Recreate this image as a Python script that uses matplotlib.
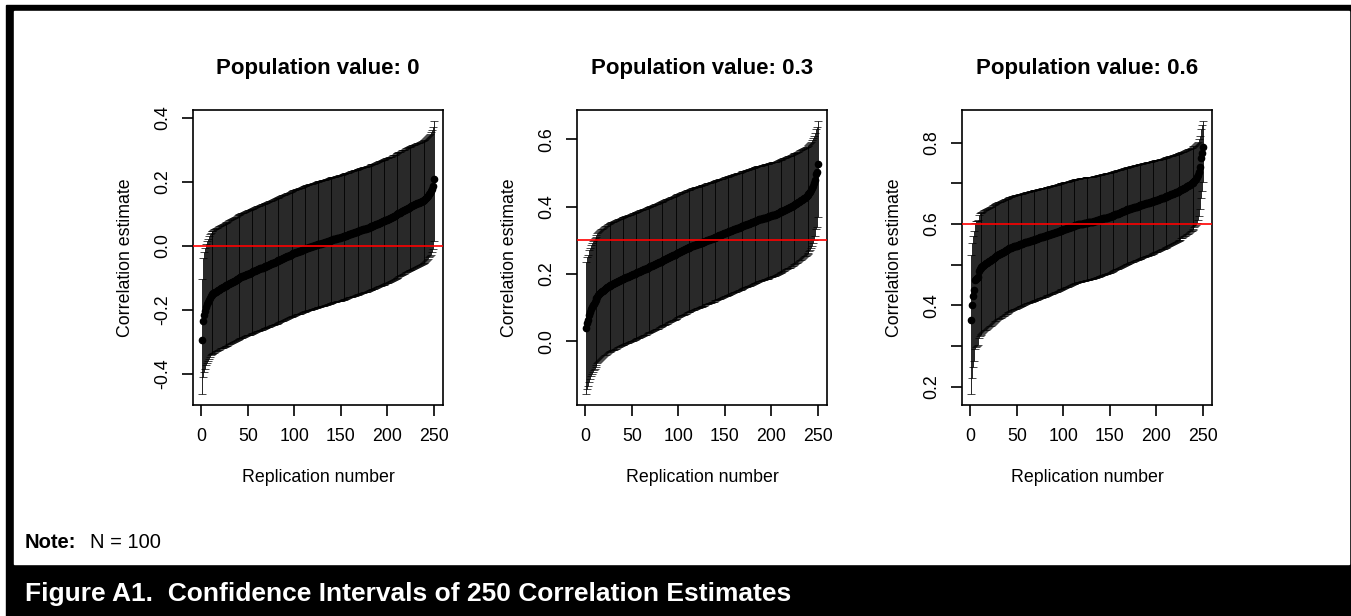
import numpy as np
import matplotlib
matplotlib.use("Agg")
import matplotlib.pyplot as plt
from matplotlib.patches import Rectangle

plt.rcParams['font.family'] = ['Liberation Sans', 'DejaVu Sans']

# sample size behind every correlation
N = 100

populations = [0.0, 0.3, 0.6]
titles = ["Population value: 0", "Population value: 0.3", "Population value: 0.6"]

# sorted correlation estimates, 250 replications per panel
est_00 = [
    -0.294, -0.234, -0.216, -0.203, -0.192, -0.183, -0.175, -0.168, -0.162, -0.157,
    -0.153, -0.151, -0.149, -0.147, -0.145, -0.143, -0.141, -0.139, -0.137, -0.135,
    -0.133, -0.132, -0.130, -0.129, -0.127, -0.126, -0.124, -0.123, -0.121, -0.119,
    -0.117, -0.115, -0.114, -0.112, -0.111, -0.109, -0.107, -0.105, -0.103, -0.101,
    -0.100, -0.099, -0.097, -0.096, -0.095, -0.093, -0.092, -0.091, -0.089, -0.088,
    -0.087, -0.086, -0.084, -0.083, -0.082, -0.080, -0.079, -0.078, -0.076, -0.075,
    -0.074, -0.073, -0.071, -0.070, -0.069, -0.068, -0.066, -0.065, -0.064, -0.063,
    -0.062, -0.060, -0.059, -0.058, -0.057, -0.055, -0.054, -0.053, -0.052, -0.050,
    -0.049, -0.048, -0.046, -0.045, -0.043, -0.042, -0.040, -0.039, -0.038, -0.036,
    -0.035, -0.033, -0.032, -0.031, -0.029, -0.028, -0.027, -0.025, -0.024, -0.023,
    -0.022, -0.021, -0.019, -0.018, -0.017, -0.016, -0.015, -0.013, -0.012, -0.011,
    -0.010, -0.009, -0.008, -0.007, -0.006, -0.005, -0.004, -0.003, -0.002, -0.001,
    0.000, 0.001, 0.002, 0.003, 0.004, 0.005, 0.006, 0.006, 0.007, 0.008,
    0.009, 0.010, 0.011, 0.012, 0.013, 0.014, 0.015, 0.016, 0.017, 0.018,
    0.019, 0.020, 0.020, 0.021, 0.022, 0.023, 0.024, 0.025, 0.025, 0.026,
    0.027, 0.028, 0.029, 0.030, 0.031, 0.032, 0.033, 0.034, 0.036, 0.037,
    0.038, 0.039, 0.040, 0.041, 0.042, 0.043, 0.044, 0.045, 0.046, 0.047,
    0.048, 0.049, 0.050, 0.051, 0.052, 0.053, 0.054, 0.055, 0.056, 0.057,
    0.059, 0.060, 0.061, 0.062, 0.063, 0.064, 0.066, 0.067, 0.068, 0.069,
    0.071, 0.072, 0.073, 0.075, 0.076, 0.077, 0.078, 0.080, 0.081, 0.082,
    0.083, 0.085, 0.086, 0.087, 0.089, 0.091, 0.092, 0.094, 0.096, 0.098,
    0.099, 0.101, 0.103, 0.104, 0.106, 0.108, 0.110, 0.111, 0.113, 0.115,
    0.116, 0.118, 0.119, 0.121, 0.122, 0.124, 0.125, 0.127, 0.128, 0.130,
    0.131, 0.133, 0.134, 0.135, 0.137, 0.138, 0.140, 0.141, 0.143, 0.144,
    0.147, 0.150, 0.153, 0.157, 0.161, 0.165, 0.170, 0.177, 0.188, 0.210,
]

est_03 = [
    0.040, 0.055, 0.063, 0.078, 0.086, 0.094, 0.100, 0.106, 0.111, 0.116,
    0.121, 0.127, 0.132, 0.136, 0.139, 0.142, 0.145, 0.148, 0.150, 0.152,
    0.155, 0.157, 0.160, 0.162, 0.164, 0.165, 0.167, 0.168, 0.170, 0.171,
    0.172, 0.174, 0.175, 0.177, 0.178, 0.179, 0.181, 0.182, 0.184, 0.185,
    0.186, 0.187, 0.188, 0.190, 0.191, 0.192, 0.193, 0.194, 0.196, 0.197,
    0.198, 0.199, 0.200, 0.202, 0.203, 0.204, 0.205, 0.206, 0.208, 0.209,
    0.210, 0.212, 0.213, 0.214, 0.215, 0.217, 0.218, 0.219, 0.221, 0.222,
    0.223, 0.224, 0.226, 0.227, 0.228, 0.230, 0.231, 0.232, 0.234, 0.235,
    0.236, 0.238, 0.239, 0.241, 0.242, 0.243, 0.245, 0.246, 0.248, 0.249,
    0.250, 0.252, 0.253, 0.255, 0.256, 0.257, 0.259, 0.260, 0.262, 0.263,
    0.264, 0.266, 0.267, 0.269, 0.270, 0.271, 0.273, 0.274, 0.276, 0.277,
    0.278, 0.279, 0.281, 0.282, 0.283, 0.284, 0.285, 0.286, 0.287, 0.288,
    0.289, 0.290, 0.291, 0.292, 0.293, 0.294, 0.295, 0.296, 0.297, 0.299,
    0.300, 0.301, 0.302, 0.303, 0.304, 0.305, 0.306, 0.307, 0.308, 0.310,
    0.311, 0.312, 0.313, 0.314, 0.315, 0.316, 0.317, 0.318, 0.320, 0.321,
    0.322, 0.323, 0.324, 0.325, 0.326, 0.327, 0.328, 0.329, 0.330, 0.332,
    0.333, 0.334, 0.335, 0.336, 0.337, 0.338, 0.339, 0.341, 0.342, 0.343,
    0.344, 0.345, 0.346, 0.347, 0.348, 0.349, 0.350, 0.352, 0.353, 0.354,
    0.355, 0.356, 0.357, 0.358, 0.360, 0.361, 0.362, 0.362, 0.363, 0.364,
    0.365, 0.366, 0.367, 0.367, 0.368, 0.369, 0.370, 0.371, 0.372, 0.373,
    0.374, 0.375, 0.375, 0.376, 0.377, 0.379, 0.380, 0.381, 0.383, 0.384,
    0.386, 0.387, 0.388, 0.390, 0.391, 0.393, 0.394, 0.396, 0.397, 0.398,
    0.400, 0.401, 0.403, 0.404, 0.406, 0.408, 0.409, 0.411, 0.413, 0.415,
    0.417, 0.419, 0.421, 0.423, 0.425, 0.427, 0.429, 0.431, 0.433, 0.436,
    0.440, 0.444, 0.449, 0.455, 0.462, 0.470, 0.480, 0.497, 0.503, 0.526,
]

est_06 = [
    0.365, 0.400, 0.423, 0.437, 0.462, 0.466, 0.468, 0.470, 0.485, 0.490,
    0.492, 0.494, 0.496, 0.498, 0.500, 0.502, 0.503, 0.505, 0.507, 0.508,
    0.510, 0.511, 0.513, 0.515, 0.517, 0.518, 0.520, 0.521, 0.523, 0.524,
    0.526, 0.527, 0.528, 0.530, 0.531, 0.532, 0.534, 0.535, 0.536, 0.538,
    0.539, 0.540, 0.541, 0.542, 0.543, 0.544, 0.545, 0.546, 0.546, 0.547,
    0.548, 0.549, 0.550, 0.551, 0.552, 0.552, 0.553, 0.554, 0.555, 0.556,
    0.557, 0.557, 0.558, 0.559, 0.559, 0.560, 0.561, 0.562, 0.562, 0.563,
    0.564, 0.564, 0.565, 0.566, 0.567, 0.567, 0.568, 0.569, 0.570, 0.570,
    0.571, 0.572, 0.573, 0.573, 0.574, 0.575, 0.576, 0.576, 0.577, 0.578,
    0.579, 0.580, 0.580, 0.581, 0.582, 0.583, 0.584, 0.585, 0.585, 0.586,
    0.587, 0.588, 0.589, 0.590, 0.590, 0.591, 0.592, 0.593, 0.594, 0.595,
    0.596, 0.596, 0.597, 0.598, 0.598, 0.599, 0.599, 0.600, 0.600, 0.601,
    0.601, 0.602, 0.602, 0.603, 0.603, 0.603, 0.604, 0.604, 0.605, 0.605,
    0.606, 0.606, 0.607, 0.608, 0.608, 0.609, 0.610, 0.610, 0.611, 0.612,
    0.612, 0.613, 0.614, 0.614, 0.615, 0.616, 0.616, 0.617, 0.617, 0.618,
    0.619, 0.620, 0.621, 0.622, 0.623, 0.624, 0.625, 0.626, 0.626, 0.627,
    0.628, 0.629, 0.630, 0.631, 0.632, 0.633, 0.634, 0.635, 0.636, 0.636,
    0.637, 0.638, 0.639, 0.639, 0.640, 0.641, 0.642, 0.643, 0.643, 0.644,
    0.645, 0.646, 0.646, 0.647, 0.648, 0.649, 0.650, 0.650, 0.651, 0.652,
    0.652, 0.653, 0.654, 0.654, 0.655, 0.656, 0.657, 0.657, 0.658, 0.659,
    0.659, 0.660, 0.661, 0.662, 0.663, 0.664, 0.664, 0.665, 0.666, 0.667,
    0.668, 0.669, 0.670, 0.671, 0.672, 0.673, 0.674, 0.675, 0.676, 0.677,
    0.678, 0.678, 0.680, 0.681, 0.682, 0.683, 0.685, 0.686, 0.687, 0.689,
    0.690, 0.692, 0.693, 0.694, 0.696, 0.697, 0.699, 0.700, 0.702, 0.704,
    0.706, 0.708, 0.711, 0.715, 0.720, 0.728, 0.740, 0.762, 0.775, 0.790,
]

yticks = [
    [-0.4, -0.2, 0.0, 0.2, 0.4],
    [0.0, 0.2, 0.4, 0.6],
    [0.2, 0.3, 0.4, 0.5, 0.6, 0.7, 0.8],
]
ytick_labels = [
    ["-0.4", "-0.2", "0.0", "0.2", "0.4"],
    ["0.0", "0.2", "0.4", "0.6"],
    ["0.2", "", "0.4", "", "0.6", "", "0.8"],
]
xticks = [0, 50, 100, 150, 200, 250]

W, H = 1351, 616
fig = plt.figure(figsize=(W / 100, H / 100), dpi=100)

# outer black frame, white page, black caption strip
fig.add_artist(Rectangle((6 / W, 0), 1 - 6 / W, 1 - 5 / H,
                         transform=fig.transFigure, color='black', zorder=0))
fig.add_artist(Rectangle((14 / W, 1 - 564 / H), (1349 - 14) / W, (564 - 11) / H,
                         transform=fig.transFigure, color='white', zorder=0))

lefts = [193, 577, 962]
zc = 1.96 / np.sqrt(N - 3)

for k, est in enumerate([est_00, est_03, est_06]):
    r = np.array(est)
    rep = np.arange(1, len(r) + 1)
    lo = np.tanh(np.arctanh(r) - zc)
    hi = np.tanh(np.arctanh(r) + zc)

    ax = fig.add_axes([lefts[k] / W, 1 - 405 / H, 250 / W, 295 / H])
    ax.errorbar(rep, r, yerr=[r - lo, hi - r], fmt='none', ecolor='black',
                elinewidth=0.6, capsize=3, capthick=0.5, zorder=2)
    ax.plot(rep, r, 'o', color='black', markersize=4.5, zorder=3)
    ax.axhline(populations[k], color='red', lw=1.2, zorder=4)

    n = len(r)
    ax.set_xlim(1 - 0.04 * (n - 1), n + 0.04 * (n - 1))
    ymin, ymax = lo.min(), hi.max()
    ax.set_ylim(ymin - 0.04 * (ymax - ymin), ymax + 0.04 * (ymax - ymin))

    ax.set_xticks(xticks)
    ax.set_yticks(yticks[k])
    ax.set_yticklabels(ytick_labels[k], rotation=90, va='center')
    ax.tick_params(axis='both', direction='out', length=8, width=1.2,
                   labelsize=12.8)
    ax.tick_params(axis='x', pad=8.6)
    ax.tick_params(axis='y', pad=8)
    for s in ax.spines.values():
        s.set_linewidth(1.2)

    ax.set_xlabel("Replication number", fontsize=12.8, labelpad=17)
    ax.set_ylabel("Correlation estimate", fontsize=12.8, labelpad=14)
    ax.set_title(titles[k], fontsize=16, fontweight='bold', pad=26)

fig.text(25 / W, 1 - 548 / H, "Note:", fontsize=14.5, fontweight='bold',
         va='baseline')
fig.text(90 / W, 1 - 548 / H, "N = 100", fontsize=14.5, va='baseline')
fig.text(25 / W, 1 - 601.5 / H,
         "Figure A1.  Confidence Intervals of 250 Correlation Estimates",
         fontsize=19, fontweight='bold', color='white', va='baseline')

fig.savefig("out.png", dpi=100)
